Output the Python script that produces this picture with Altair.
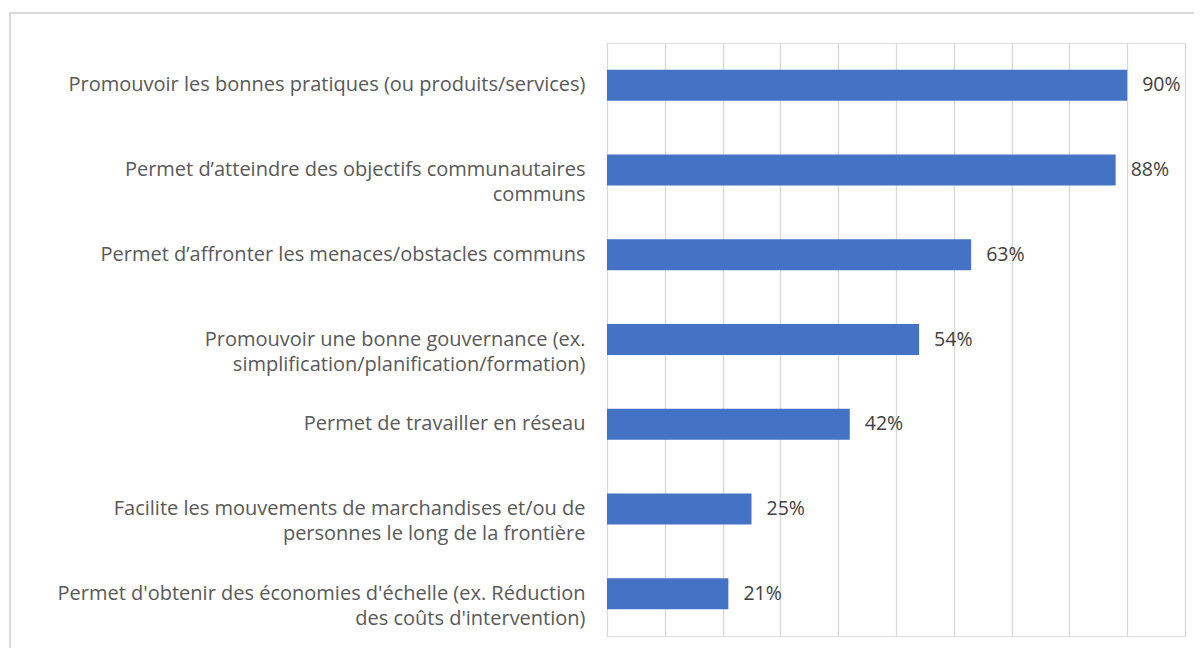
import altair as alt
import pandas as pd

categories = [
    "Promouvoir les bonnes pratiques (ou produits/services)",
    "Permet d’atteindre des objectifs communautaires\ncommuns",
    "Permet d’affronter les menaces/obstacles communs",
    "Promouvoir une bonne gouvernance (ex.\nsimplification/planification/formation)",
    "Permet de travailler en réseau",
    "Facilite les mouvements de marchandises et/ou de\npersonnes le long de la frontière",
    "Permet d'obtenir des économies d'échelle (ex. Réduction\ndes coûts d'intervention)",
]
values = [0.90, 0.88, 0.63, 0.54, 0.42, 0.25, 0.21]
grid_ticks = [0, 0.1, 0.2, 0.3, 0.4, 0.5, 0.6, 0.7, 0.8, 0.9, 1.0]

df = pd.DataFrame({"cat": categories, "val": values})

FONT = "Open Sans"
LABEL_COLOR = "#595959"
FS = 20

x_enc = alt.X(
    "val:Q",
    scale=alt.Scale(domain=[0, 1], nice=False),
    axis=alt.Axis(
        values=grid_ticks, labels=False, ticks=False, domain=False, title=None,
        grid=True, gridColor="#d9d9d9", gridWidth=1.3,
    ),
)
y_enc = alt.Y(
    "cat:N",
    sort=categories,
    scale=alt.Scale(paddingInner=0.0, paddingOuter=0.0),
    axis=alt.Axis(
        title=None, ticks=False, domain=False, grid=False,
        labelExpr="split(datum.label, '\\n')",
        labelFont=FONT, labelFontSize=FS, labelColor=LABEL_COLOR,
        labelPadding=22, labelLimit=700, labelLineHeight=25,
        labelAlign="right", labelBaseline="middle",
    ),
)

frame = alt.Chart(df).mark_rect(
    fill=None, stroke="#d9d9d9", strokeWidth=1.5
).encode(
    x=alt.value(-597), x2=alt.value(700),
    y=alt.value(-30), y2=alt.value(700),
)

bars = alt.Chart(df).mark_bar(size=31, color="#4472C4").encode(x=x_enc, y=y_enc)

labels = alt.Chart(df).mark_text(
    align="left", baseline="middle", dx=15, font=FONT, fontSize=19.5, color="#404040"
).encode(
    x=alt.X("val:Q"),
    y=alt.Y("cat:N", sort=categories),
    text=alt.Text("val:Q", format=".0%"),
)

chart = alt.layer(frame, bars, labels).properties(
    width=578,
    height=593,
    autosize=alt.AutoSizeParams(type="none"),
    padding={"left": 599, "top": 35, "right": 9, "bottom": 12},
).configure_view(stroke=None).configure(background="white")

chart.save("out.html", embed_options={"renderer": "svg", "actions": False})
